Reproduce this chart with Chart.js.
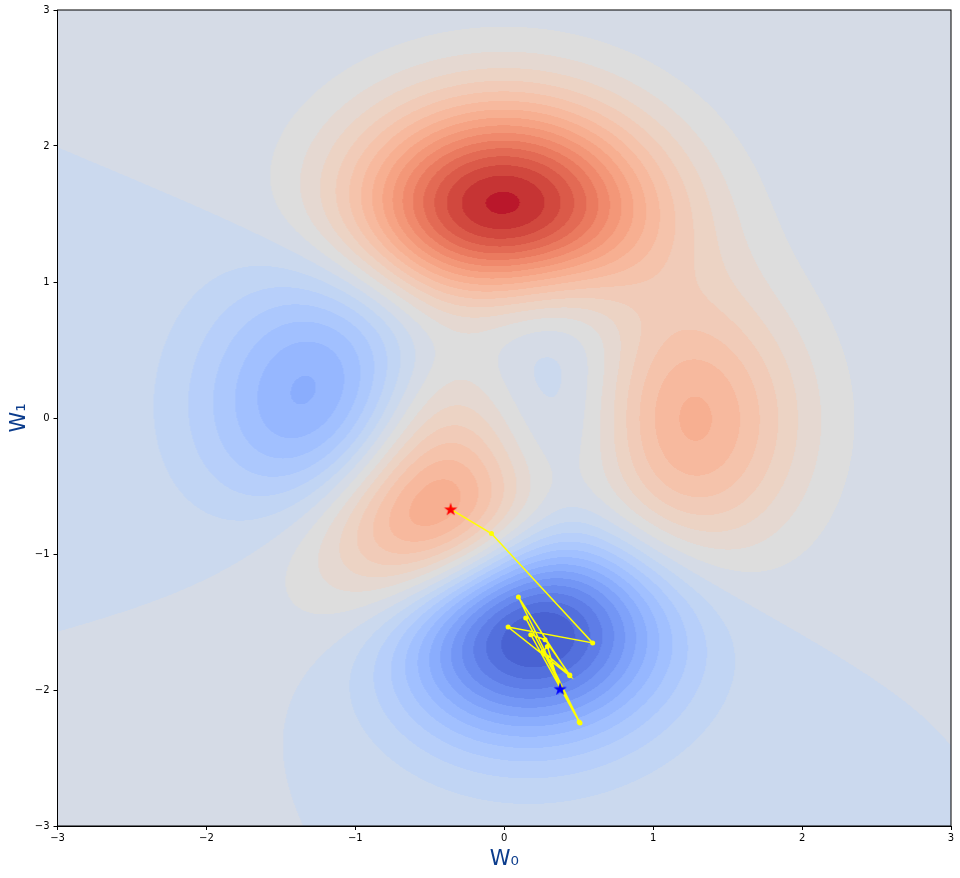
<!DOCTYPE html>
<html>
<head>
<meta charset="utf-8">
<script src="https://cdn.jsdelivr.net/npm/chart.js@4.4.1/dist/chart.umd.min.js"></script>
<style>
  html, body { margin: 0; padding: 0; background: #fff; }
  #wrap { width: 960px; height: 878px; position: relative; }
</style>
</head>
<body>
<div id="wrap"><canvas id="chart"></canvas></div>
<script>
// ticks of both axes
const xTicks = [-3, -2, -1, 0, 1, 2, 3];
const yTicks = [-3, -2, -1, 0, 1, 2, 3];

// filled contour levels (step 0.5)
const levels = [-7, -6.5, -6, -5.5, -5, -4.5, -4, -3.5, -3, -2.5, -2, -1.5, -1, -0.5, 0,
  0.5, 1, 1.5, 2, 2.5, 3, 3.5, 4, 4.5, 5, 5.5, 6, 6.5, 7, 7.5, 8, 8.5];

// optimisation path
const pathW0 = [-0.36, -0.086, 0.594, 0.026, 0.44, 0.095, 0.509, 0.144, 0.503, 0.178, 0.274, 0.44, 0.261, 0.29, 0.375];
const pathW1 = [-0.67, -0.85, -1.654, -1.537, -1.895, -1.316, -2.243, -1.47, -2.235, -1.593, -1.63, -1.89, -1.716, -1.68, -1.99];
const startPoint = [-0.36, -0.67];
const endPoint = [0.375, -1.99];

// the surface behind the path (matlab "peaks")
function surface(x, y) {
  const a = (1 - x) * (1 - x), b = (y + 1) * (y + 1), c = (x + 1) * (x + 1);
  return 3 * a * Math.exp(-x * x - b)
    - 10 * (x / 5 - x * x * x - y * y * y * y * y) * Math.exp(-x * x - y * y)
    - Math.exp(-c - y * y) / 3;
}

// coolwarm colormap
const coolwarm = [
  [59,76,192],[68,90,204],[77,104,215],[87,117,225],[98,130,234],[108,142,241],[119,154,247],
  [130,165,251],[141,176,254],[152,185,255],[163,194,255],[174,201,253],[184,208,249],[194,213,244],
  [204,217,238],[213,219,230],[221,221,221],[229,216,209],[236,211,197],[241,204,185],[245,196,173],
  [247,187,160],[247,177,148],[247,166,135],[244,154,123],[241,141,111],[236,127,99],[229,112,88],
  [222,96,77],[213,80,66],[203,62,56],[192,40,47],[180,4,38]
];
function cmap(t) {
  t = Math.min(1, Math.max(0, t)) * (coolwarm.length - 1);
  const i = Math.min(coolwarm.length - 2, Math.floor(t)), f = t - i;
  return coolwarm[i].map((c, k) => Math.round(c + (coolwarm[i + 1][k] - c) * f));
}
const lo = levels[0], hi = levels[levels.length - 1];
const bandColors = [];
for (let k = 0; k < levels.length - 1; k++) {
  const mid = (levels[k] + levels[k + 1]) / 2;
  bandColors.push(cmap((mid - lo) / (hi - lo)));
}

function starImage(color) {
  const c = document.createElement('canvas');
  c.width = 16; c.height = 16;
  const g = c.getContext('2d');
  g.fillStyle = color;
  g.beginPath();
  for (let i = 0; i < 10; i++) {
    const r = i % 2 === 0 ? 7 : 2.7;
    const a = -Math.PI / 2 + i * Math.PI / 5;
    const px = 8 + r * Math.cos(a), py = 8.6 + r * Math.sin(a);
    if (i === 0) g.moveTo(px, py); else g.lineTo(px, py);
  }
  g.closePath();
  g.fill();
  return c;
}

const contourPlugin = {
  id: 'contour',
  beforeDraw(chart) {
    const { ctx, chartArea: a, scales: { x, y } } = chart;
    const w = Math.round(a.right - a.left), h = Math.round(a.bottom - a.top);
    const off = document.createElement('canvas');
    off.width = w; off.height = h;
    const octx = off.getContext('2d');
    const img = octx.createImageData(w, h);
    const xs = [];
    for (let i = 0; i < w; i++) xs.push(x.getValueForPixel(a.left + i + 0.5));
    for (let j = 0; j < h; j++) {
      const wy = y.getValueForPixel(a.top + j + 0.5);
      for (let i = 0; i < w; i++) {
        const z = surface(xs[i], wy);
        let k = Math.floor((z - lo) / 0.5);
        k = Math.max(0, Math.min(bandColors.length - 1, k));
        const col = bandColors[k];
        const p = (j * w + i) * 4;
        img.data[p] = col[0]; img.data[p + 1] = col[1]; img.data[p + 2] = col[2]; img.data[p + 3] = 255;
      }
    }
    octx.putImageData(img, 0, 0);
    ctx.drawImage(off, a.left, a.top, a.right - a.left, a.bottom - a.top);
  },
  afterDraw(chart) {
    const { ctx, chartArea: a } = chart;
    ctx.save();
    ctx.strokeStyle = '#000';
    ctx.lineWidth = 1;
    ctx.strokeRect(a.left, a.top, a.right - a.left, a.bottom - a.top);
    ctx.restore();
  }
};

const fmt = v => (v < 0 ? '\u2212' + Math.abs(v) : String(v));
const tickFont = { family: 'DejaVu Sans', size: 10 };

new Chart(document.getElementById('chart'), {
  type: 'scatter',
  data: {
    datasets: [
      {
        data: [{ x: startPoint[0], y: startPoint[1] }],
        pointStyle: starImage('#ff0000'),
        pointRadius: 8,
        order: 0
      },
      {
        data: [{ x: endPoint[0], y: endPoint[1] }],
        pointStyle: starImage('#0000ff'),
        pointRadius: 8,
        order: 0
      },
      {
        data: pathW0.map((v, i) => ({ x: v, y: pathW1[i] })),
        showLine: true,
        borderColor: '#ffff00',
        borderWidth: 1.5,
        backgroundColor: '#ffff00',
        pointRadius: 2.5,
        pointBorderWidth: 0,
        order: 1
      }
    ]
  },
  options: {
    responsive: true,
    maintainAspectRatio: false,
    animation: false,
    events: [],
    layout: { padding: { top: 10, right: 9, left: 0, bottom: 0 } },
    plugins: { legend: { display: false }, tooltip: { enabled: false } },
    scales: {
      x: {
        type: 'linear', min: -3, max: 3,
        afterBuildTicks: s => { s.ticks = xTicks.map(v => ({ value: v })); },
        afterFit: s => { s.height = 52; },
        ticks: { callback: fmt, font: tickFont, color: '#000', padding: 2, maxRotation: 0 },
        grid: { drawOnChartArea: false, drawTicks: true, tickLength: 4, color: '#000' },
        border: { display: true, color: '#000', width: 1 },
        title: { display: true, text: 'W\u2080', color: '#0b3c8c',
          font: { family: 'DejaVu Sans', size: 21 }, padding: { top: 0, bottom: 6 } }
      },
      y: {
        type: 'linear', min: -3, max: 3,
        afterBuildTicks: s => { s.ticks = yTicks.map(v => ({ value: v })); },
        afterFit: s => { s.width = 57.5; },
        ticks: { callback: fmt, font: tickFont, color: '#000', padding: 4 },
        grid: { drawOnChartArea: false, drawTicks: true, tickLength: 4, color: '#000' },
        border: { display: true, color: '#000', width: 1 },
        title: { display: true, text: 'W\u2081', color: '#0b3c8c',
          font: { family: 'DejaVu Sans', size: 21 }, padding: { top: 7, bottom: 0 } }
      }
    }
  },
  plugins: [contourPlugin]
});
</script>
</body>
</html>
